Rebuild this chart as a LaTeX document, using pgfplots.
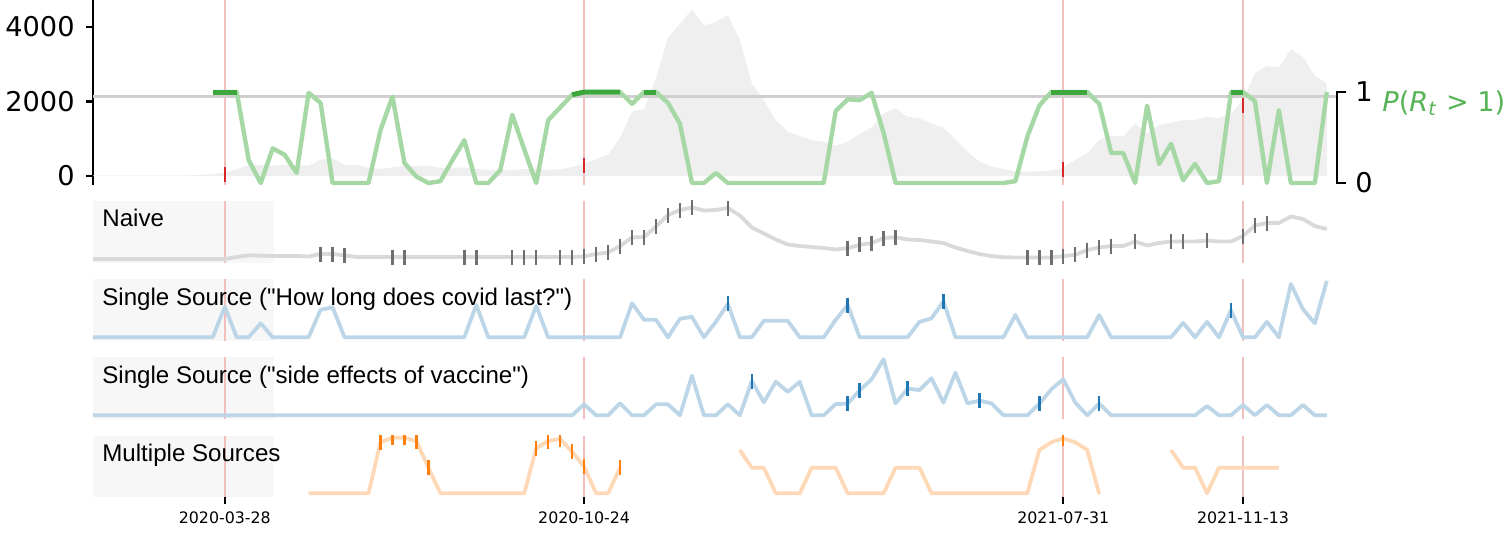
\documentclass[border=0pt]{standalone}
\usepackage{fontspec}
\setmainfont{DejaVu Sans}
\newfontfamily\arialf{Liberation Sans}
\usepackage{pgfplots}
\pgfplotsset{compat=1.18}

\definecolor{areagrey}{HTML}{EFEFEF}
\definecolor{lgreen}{HTML}{A6D8A6}
\definecolor{dgreen}{HTML}{3CA83C}
\definecolor{tgreen}{HTML}{56B356}
\definecolor{lred}{HTML}{F3BEBE}
\definecolor{dred}{HTML}{D62728}
\definecolor{hgrey}{HTML}{CFCFCF}
\definecolor{lgrey}{HTML}{D9D9D9}
\definecolor{dgrey}{HTML}{6F6F6F}
\definecolor{lblue}{HTML}{BCD6E8}
\definecolor{dblue}{HTML}{1F77B4}
\definecolor{lorange}{HTML}{FFD9B7}
\definecolor{dorange}{HTML}{FF7F0E}
\definecolor{boxgrey}{HTML}{F7F7F7}

\newcommand{\bigfont}{\fontsize{13.6}{16}\selectfont}

% x = week index, 0 = first week shown, 11 = 2020-03-28
\pgfplotsset{
  base/.style={anchor=north west, width=622pt, scale only axis, xmin=0, xmax=103.85},
  panel/.style={base, at={(46.5pt,#1)}, height=30.75pt, ymin=0, ymax=61.5},
  trace/.style={line width=1.9pt, line join=round, mark=none},
  ticks/.style={only marks, mark=|, mark size=3.75pt, mark options={line width=1.2pt}},
}
\newcommand{\panelback}[1]{%
  \fill[boxgrey] (axis cs:0,0) rectangle (axis cs:15.1,61.5);
  \pgfplotsinvokeforeach{11,41,81,96}{\draw[lred, line width=1pt] (axis cs:##1,0) -- (axis cs:##1,61.5);}
  \node[anchor=base west, inner sep=0pt, font=\arialf\fontsize{12.05}{14}\selectfont] at (axis cs:0.75,35.6) {#1};
}

\begin{document}
\begin{tikzpicture}
\path[use as bounding box] (0,0) rectangle (756pt,266pt);

% ---- top panel: search volume (area) ----
\begin{axis}[base, at={(46.5pt,266pt)}, height=92.25pt,
  ymin=-228, ymax=4725,
  axis x line=none, axis y line*=left,
  ytick={0,2000,4000},
  yticklabel={\bigfont\pgfmathprintnumber[assume math mode=true, 1000 sep={}, fixed, precision=0]{\tick}},
  yticklabel style={anchor=east, inner sep=0pt, xshift=-5.5pt},
  tick align=outside, major tick length=3.5pt,
  every tick/.style={black, line width=1.1pt},
  axis line style={line width=1.1pt},
  clip=false]
\addplot[fill=areagrey, draw=none] coordinates {
(0,20)(1,20)(2,20)(3,20)(4,20)(5,20)(6,20)(7,20)(8,20)(9,25)(10,50)(11,90)(12,180)
(13,300)(14,290)(15,280)(16,300)(17,290)(18,280)(19,440)(20,470)(21,300)(22,300)(23,220)
(24,190)(25,230)(26,270)(27,275)(28,275)(29,220)(30,220)(31,225)(32,190)(33,160)(34,160)
(35,160)(36,190)(37,200)(38,165)(39,180)(40,240)(41,330)(42,450)(43,570)(44,1030)(45,1730)
(46,1790)(47,2620)(48,3720)(49,4080)(50,4480)(51,4030)(52,4140)(53,4320)(54,3650)(55,2490)
(56,2040)(57,1500)(58,1190)(59,1070)(60,970)(61,920)(62,810)(63,920)(64,1130)(65,1300)
(66,1680)(67,1820)(68,1590)(69,1550)(70,1410)(71,1300)(72,985)(73,650)(74,385)(75,250)
(76,190)(77,120)(78,120)(79,125)(80,145)(81,230)(82,430)(83,620)(84,967)(85,1080)(86,1060)
(87,1410)(88,1145)(89,1370)(90,1430)(91,1500)(92,1500)(93,1590)(94,1550)(95,1680)(96,2040)
(97,2760)(98,2950)(99,2920)(100,3400)(101,3200)(102,2690)(103,2490)} \closedcycle;
\pgfplotsinvokeforeach{11,41,81,96}{\draw[lred, line width=1pt] (axis cs:#1,-228) -- (axis cs:#1,4725);}
\addplot[ticks, dred, mark size=3.75pt] coordinates {(11,35)(41,274)(81,175)(96,1885)};
\end{axis}

% ---- top panel: P(R_t > 1) ----
\begin{axis}[base, at={(46.5pt,266pt)}, height=92.25pt,
  ymin=-0.0165, ymax=2.011, hide axis, clip=false]
\draw[hgrey, line width=1.2pt] (axis cs:0,0.95) -- (axis cs:103.85,0.95);
\addplot[lgreen, line width=2.2pt, line join=round] coordinates {
(10,1)(11,1)(12,1)(13,0.25)(14,0)(15,0.38)(16,0.31)(17,0.11)(18,0.99)(19,0.88)(20,0)(21,0)
(22,0)(23,0)(24,0.58)(25,0.95)(26,0.22)(27,0.07)(28,0)(29,0.02)(30,0.25)(31,0.47)(32,0)(33,0)
(34,0.14)(35,0.75)(36,0.37)(37,0)(38,0.69)(39,0.83)(40,0.97)(41,1)(42,1)(43,1)(44,1)(45,0.87)
(46,1)(47,1)(48,0.88)(49,0.65)(50,0)(51,0)(52,0.11)(53,0)(54,0)(55,0)(56,0)(57,0)(58,0)(59,0)
(60,0)(61,0)(62,0.79)(63,0.92)(64,0.91)(65,0.99)(66,0.55)(67,0)(68,0)(69,0)(70,0)(71,0)(72,0)
(73,0)(74,0)(75,0)(76,0)(77,0.02)(78,0.51)(79,0.85)(80,1)(81,1)(82,1)(83,1)(84,0.87)(85,0.33)
(86,0.33)(87,0)(88,0.85)(89,0.21)(90,0.43)(91,0.03)(92,0.21)(93,0)(94,0.02)(95,1)(96,1)(97,0.9)
(98,0)(99,0.8)(100,0)(101,0)(102,0)(103,1)};
\addplot[dgreen, line width=2.5pt] coordinates {(10,1)(11,1)(12,1)};
\addplot[dgreen, line width=2.5pt] coordinates {(40,0.97)(41,1)(42,1)(43,1)(44,1)};
\addplot[dgreen, line width=2.5pt] coordinates {(46,1)(47,1)};
\addplot[dgreen, line width=2.5pt] coordinates {(80,1)(81,1)(82,1)(83,1)};
\addplot[dgreen, line width=2.5pt] coordinates {(95,1)(96,1)};
\draw[black, line width=1.1pt] (axis cs:104.63,1) -- (axis cs:103.85,1) -- (axis cs:103.85,0) -- (axis cs:104.63,0);
\node[anchor=west, inner sep=0pt, font=\bigfont, xshift=9pt] at (axis cs:103.85,1) {1};
\node[anchor=west, inner sep=0pt, font=\bigfont, xshift=9pt] at (axis cs:103.85,0) {0};
\node[anchor=west, inner sep=0pt, text=tgreen, font=\bigfont, xshift=22.5pt]
  at (axis cs:103.85,0.88) {\textit{P}(\textit{R}\textsubscript{\textit{t}} > 1)};
\end{axis}

% ---- Naive ----
\begin{axis}[panel=165.5pt, hide axis, clip=false]
\panelback{Naive}
\addplot[trace, lgrey] coordinates {
(0,3.4)(1,3.4)(2,3.4)(3,3.4)(4,3.4)(5,3.4)(6,3.4)(7,3.4)(8,3.4)(9,3.4)(10,3.4)(11,3.4)(12,5.5)
(13,7.2)(14,6.8)(15,6.5)(16,6.5)(17,6.5)(18,6)(19,8.5)(20,8.5)(21,7)(22,5.5)(23,5.5)(24,5.5)
(25,5.5)(26,5.5)(27,5.5)(28,5.5)(29,5.5)(30,5.5)(31,5.5)(32,5.5)(33,5.5)(34,5.5)(35,5.5)(36,5.5)
(37,5.5)(38,5.5)(39,5.5)(40,5.5)(41,6)(42,8.5)(43,10)(44,16.5)(45,25)(46,25.5)(47,36)(48,47.5)
(49,52.5)(50,55)(51,52)(52,52.5)(53,54.5)(54,47)(55,35)(56,29)(57,23)(58,18)(59,16.5)(60,15.5)
(61,14.5)(62,13)(63,14.4)(64,17.7)(65,19.4)(66,24.4)(67,25.3)(68,23)(69,22.5)(70,21)(71,19.5)
(72,15)(73,11.5)(74,8.5)(75,6.5)(76,5.3)(77,5)(78,5)(79,5)(80,5)(81,6.3)(82,7.7)(83,12.5)(84,15)
(85,16.5)(86,16.5)(87,21)(88,17)(89,19.5)(90,21)(91,21)(92,21)(93,22)(94,21)(95,21)(96,26.5)
(97,37)(98,39.5)(99,39.5)(100,46)(101,43.5)(102,36.5)(103,33.5)};
\addplot[ticks, dgrey] coordinates {
(19,8.5)(20,8.5)(21,7)(25,5.5)(26,5.5)(31,5.5)(32,5.5)(35,5.5)(36,5.5)(37,5.5)(39,5.5)(40,5.5)
(41,6)(42,8.5)(43,10)(44,16.5)(45,25)(46,25.5)(47,36)(48,47.5)(49,52.5)(50,55)(53,54.5)
(63,14.4)(64,17.7)(65,19.4)(66,24.4)(67,25.3)(78,5)(79,5)(80,5)(81,6.3)(82,7.7)(83,12.5)(84,15)
(85,16.5)(87,21)(90,21)(91,21)(93,22)(96,26.5)(97,37)(98,39.5)};
\end{axis}

% ---- Single source 1 ----
\begin{axis}[panel=126.35pt, hide axis, clip=false]
\panelback{Single Source ("How long does covid last?")}
\addplot[trace, lblue] coordinates {
(0,3.5)(1,3.5)(2,3.5)(3,3.5)(4,3.5)(5,3.5)(6,3.5)(7,3.5)(8,3.5)(9,3.5)(10,3.5)(11,34)(12,3.5)
(13,3.5)(14,17.5)(15,3.5)(16,3.5)(17,3.5)(18,3.5)(19,31)(20,33.5)(21,3.5)(22,3.5)(23,3.5)(24,3.5)
(25,3.5)(26,3.5)(27,3.5)(28,3.5)(29,3.5)(30,3.5)(31,3.5)(32,36)(33,3.5)(34,3.5)(35,3.5)(36,3.5)
(37,35)(38,3.5)(39,3.5)(40,3.5)(41,3.5)(42,3.5)(43,3.5)(44,3.5)(45,37.5)(46,21)(47,21)(48,3.5)
(49,22)(50,24)(51,3.5)(52,19)(53,37)(54,3.5)(55,3.5)(56,20)(57,20)(58,20)(59,3.5)(60,3.5)(61,3.5)
(62,21)(63,35.8)(64,3.5)(65,3.5)(66,3.5)(67,3.5)(68,3.5)(69,19)(70,22.5)(71,39.5)(72,3.5)(73,3.5)
(74,3.5)(75,3.5)(76,3.5)(77,25.8)(78,3.5)(79,3.5)(80,3.5)(81,3.5)(82,3.5)(83,3.5)(84,25.8)(85,3.5)
(86,3.5)(87,3.5)(88,3.5)(89,3.5)(90,3.5)(91,18)(92,3.5)(93,19)(94,3.5)(95,30.5)(96,3.5)(97,3.5)
(98,19)(99,3.5)(100,56.8)(101,31.8)(102,17.5)(103,60)};
\addplot[ticks, dblue] coordinates {(53,37)(63,35.8)(71,39.5)(95,30.5)};
\end{axis}

% ---- Single source 2 ----
\begin{axis}[panel=87.35pt, hide axis, clip=false]
\panelback{Single Source ("side effects of vaccine")}
\addplot[trace, lblue] coordinates {
(0,3.5)(1,3.5)(2,3.5)(3,3.5)(4,3.5)(5,3.5)(6,3.5)(7,3.5)(8,3.5)(9,3.5)(10,3.5)(11,3.5)(12,3.5)
(13,3.5)(14,3.5)(15,3.5)(16,3.5)(17,3.5)(18,3.5)(19,3.5)(20,3.5)(21,3.5)(22,3.5)(23,3.5)(24,3.5)
(25,3.5)(26,3.5)(27,3.5)(28,3.5)(29,3.5)(30,3.5)(31,3.5)(32,3.5)(33,3.5)(34,3.5)(35,3.5)(36,3.5)
(37,3.5)(38,3.5)(39,3.5)(40,3.5)(41,14.5)(42,3.5)(43,3.5)(44,15.5)(45,3.5)(46,3.5)(47,14.5)
(48,14.5)(49,3.5)(50,43)(51,3.5)(52,3.5)(53,14.5)(54,3.5)(55,37.8)(56,16.5)(57,37)(58,27)(59,37)
(60,3.5)(61,3.5)(62,14.8)(63,15.1)(64,28.5)(65,39.5)(66,59.5)(67,15.5)(68,30.1)(69,28.8)(70,40.5)
(71,16.2)(72,46.1)(73,15.5)(74,18.1)(75,15.5)(76,3.5)(77,3.5)(78,3.5)(79,15.1)(80,29.5)(81,39.5)
(82,16.2)(83,3.5)(84,15.1)(85,3.5)(86,3.5)(87,3.5)(88,3.5)(89,3.5)(90,3.5)(91,3.5)(92,3.5)
(93,12.8)(94,3.5)(95,3.5)(96,13.8)(97,3.5)(98,13.8)(99,3.5)(100,3.5)(101,13.8)(102,3.5)(103,3.5)};
\addplot[ticks, dblue] coordinates {(55,37.8)(63,15.1)(64,28.5)(68,30.1)(74,18.1)(79,15.1)(84,15.1)};
\end{axis}

% ---- Multiple sources ----
\begin{axis}[panel=48.15pt,
  axis x line*=bottom, axis y line=none, x axis line style={draw=none},
  xtick={11,41,81,96},
  xticklabels={2020-03-28,2020-10-24,2021-07-31,2021-11-13},
  ytick=\empty, tick align=outside, major tick length=3.5pt,
  every tick/.style={black, line width=1pt},
  xticklabel style={font=\fontsize{7.9}{9}\selectfont},
  clip marker paths=true]
\panelback{Multiple Sources}
\addplot[trace, lorange] coordinates {
(18,3.9)(19,3.9)(20,3.9)(21,3.9)(22,3.9)(23,3.9)(24,55)(25,59.5)(26,59.5)(27,56)(28,29.5)
(29,3.9)(30,3.9)(31,3.9)(32,3.9)(33,3.9)(34,3.9)(35,3.9)(36,3.9)(37,48.9)(38,56.2)(39,58.2)
(40,45.5)(41,30.5)(42,3.9)(43,3.9)(44,29.5)};
\addplot[trace, lorange] coordinates {
(54,47.2)(55,29.5)(56,29.5)(57,3.9)(58,3.9)(59,3.9)(60,29.5)(61,29.5)(62,29.5)(63,3.9)(64,3.9)
(65,3.9)(66,3.9)(67,29.5)(68,29.5)(69,29.5)(70,3.9)(71,3.9)(72,3.9)(73,3.9)(74,3.9)(75,3.9)
(76,3.9)(77,3.9)(78,3.9)(79,47.2)(80,54.9)(81,58.9)(82,54.9)(83,47.2)(84,3)};
\addplot[trace, lorange] coordinates {
(90,47.2)(91,29.5)(92,29.5)(93,3.9)(94,29.5)(95,29.5)(96,29.5)(97,29.5)(98,29.5)(99,29.5)};
\addplot[ticks, dorange] coordinates {
(24,55)(25,59.5)(26,59.5)(27,56)(28,29.5)(37,48.9)(38,56.2)(39,58.2)(40,45.5)(41,30.5)
(44,29.5)(81,58.9)};
\end{axis}
\end{tikzpicture}
\end{document}
